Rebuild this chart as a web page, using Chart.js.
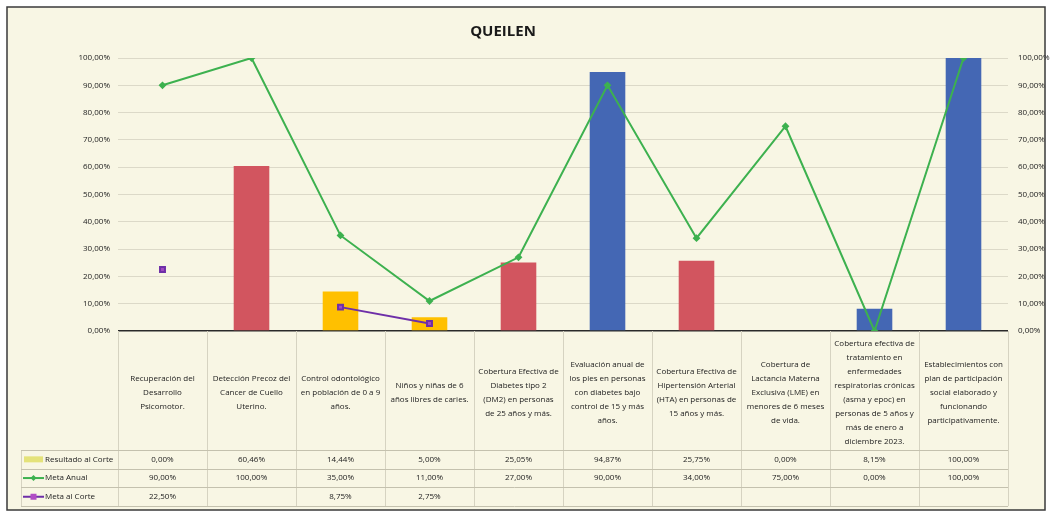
<!DOCTYPE html>
<html>
<head>
<meta charset="utf-8">
<script src="https://cdn.jsdelivr.net/npm/chart.js@4.4.1/dist/chart.umd.min.js"></script>
<style>
  html, body { margin: 0; padding: 0; background: #ffffff; }
  canvas { display: block; }
</style>
</head>
<body>
<canvas id="myChart" width="1050" height="513"></canvas>
<script>
// categorias (cada una partida en lineas como en la tabla)
const categorias = [
  ["Recuperación del", "Desarrollo", "Psicomotor."],
  ["Detección Precoz del", "Cancer de Cuello", "Uterino."],
  ["Control odontológico", "en población de 0 a 9", "años."],
  ["Niños y niñas de 6", "años libres de caries."],
  ["Cobertura Efectiva de", "Diabetes tipo 2", "(DM2) en personas", "de 25 años y más."],
  ["Evaluación anual de", "los pies en personas", "con diabetes bajo", "control de 15 y más", "años."],
  ["Cobertura Efectiva de", "Hipertensión Arterial", "(HTA) en personas de", "15 años y más."],
  ["Cobertura de", "Lactancia Materna", "Exclusiva (LME) en", "menores de 6 meses", "de vida."],
  ["Cobertura efectiva de", "tratamiento en", "enfermedades", "respiratorias crónicas", "(asma y epoc) en", "personas de 5 años y", "más de enero a", "diciembre 2023."],
  ["Establecimientos con", "plan de participación", "social elaborado y", "funcionando", "participativamente."]
];
const resultadoCorte = [0, 60.46, 14.44, 5.00, 25.05, 94.87, 25.75, 0, 8.15, 100];
const metaAnual = [90, 100, 35, 11, 27, 90, 34, 75, 0, 100];
const metaCorte = [22.5, null, 8.75, 2.75, null, null, null, null, null, null];
const yTicks = [0, 10, 20, 30, 40, 50, 60, 70, 80, 90, 100];
const titulo = "QUEILEN";

const fmt = v => v.toFixed(2).replace(".", ",") + "%";
const FONT = '"Open Sans", "Liberation Sans", sans-serif';
const TXT = "#222222";

const barColor = i => {
  if (resultadoCorte[i] >= metaAnual[i]) return "#4467B4";
  if (metaCorte[i] != null && resultadoCorte[i] >= metaCorte[i]) return "#FFC000";
  return "#D2555F";
};

const tablePlugin = {
  id: "tablePlugin",
  beforeDraw(chart) {
    const c = chart.ctx;
    c.save();
    c.fillStyle = "#ffffff";
    c.fillRect(0, 0, chart.width, chart.height);
    c.fillStyle = "#f8f6e4";
    c.fillRect(7, 7, 1038, 503);
    c.restore();
  },
  afterDraw(chart) {
    const c = chart.ctx;
    const xs = chart.scales.x;
    const area = chart.chartArea;
    const n = categorias.length;
    const w = (area.right - area.left) / n;
    const rowsTop = 450, rowH = 18.7;
    const rows = [
      { name: "Resultado al Corte", data: resultadoCorte },
      { name: "Meta Anual", data: metaAnual },
      { name: "Meta al Corte", data: metaCorte }
    ];
    c.save();
    // title
    c.fillStyle = "#1a1a1a";
    c.font = "bold 15px " + FONT;
    c.textAlign = "center";
    c.textBaseline = "middle";
    c.fillText(titulo, 503, 32);

    // grid of the table
    c.strokeStyle = "#d6d3c1";
    c.lineWidth = 1;
    for (let i = 0; i <= n; i++) {
      const x = Math.round(area.left + i * w) + 0.5;
      c.beginPath();
      c.moveTo(x, area.bottom);
      c.lineTo(x, rowsTop + rowH * 3);
      c.stroke();
    }
    c.beginPath();
    c.moveTo(21.5, rowsTop);
    c.lineTo(21.5, rowsTop + rowH * 3);
    c.stroke();
    c.strokeStyle = "#c4c1ae";
    for (let r = 0; r <= 3; r++) {
      const y = Math.round(rowsTop + r * rowH) + 0.5;
      c.beginPath();
      c.moveTo(21, y);
      c.lineTo(area.right, y);
      c.stroke();
    }

    // category labels
    c.fillStyle = TXT;
    c.font = "8px " + FONT;
    const lh = 14, cy = 393;
    categorias.forEach((lines, i) => {
      const x = xs.getPixelForValue(i);
      const y0 = cy - (lines.length - 1) * lh / 2;
      lines.forEach((t, k) => c.fillText(t, x, y0 + k * lh));
    });

    // rows
    rows.forEach((row, r) => {
      const y = rowsTop + r * rowH + rowH / 2;
      row.data.forEach((v, i) => {
        if (v == null) return;
        c.fillStyle = TXT;
        c.textAlign = "center";
        c.fillText(fmt(v), xs.getPixelForValue(i), y);
      });
      c.textAlign = "left";
      c.fillStyle = TXT;
      c.fillText(row.name, 45, y);
    });

    // legend keys
    let y = rowsTop + rowH / 2;
    c.fillStyle = "#E4E27A";
    c.fillRect(24, y - 3, 19, 6);
    y = rowsTop + rowH * 1.5;
    c.strokeStyle = "#3DB14F";
    c.lineWidth = 2;
    c.beginPath(); c.moveTo(23, y); c.lineTo(44, y); c.stroke();
    c.fillStyle = "#3DB14F";
    c.beginPath(); c.moveTo(33.5, y - 3); c.lineTo(36.5, y); c.lineTo(33.5, y + 3); c.lineTo(30.5, y); c.closePath(); c.fill();
    y = rowsTop + rowH * 2.5;
    c.strokeStyle = "#6E2FA8";
    c.beginPath(); c.moveTo(23, y); c.lineTo(44, y); c.stroke();
    c.fillStyle = "#B04CC4";
    c.fillRect(30.5, y - 3, 6, 6);

    // frame
    c.strokeStyle = "#3a3a3a";
    c.lineWidth = 1.5;
    c.strokeRect(7, 7, 1038, 503);
    c.restore();
  }
};

new Chart(document.getElementById("myChart").getContext("2d"), {
  type: "bar",
  data: {
    labels: categorias,
    datasets: [
      {
        type: "line",
        label: "Meta Anual",
        data: metaAnual,
        borderColor: "#3DB14F",
        backgroundColor: "#3DB14F",
        borderWidth: 2,
        pointStyle: "rectRot",
        pointRadius: 2.5,
        tension: 0,
        order: 0
      },
      {
        type: "line",
        label: "Meta al Corte",
        data: metaCorte,
        borderColor: "#6E2FA8",
        backgroundColor: "#A24BC0",
        borderWidth: 2,
        pointStyle: "rect",
        pointRadius: 3.5,
        spanGaps: false,
        tension: 0,
        order: 1
      },
      {
        type: "bar",
        label: "Resultado al Corte",
        data: resultadoCorte,
        backgroundColor: ctx => barColor(ctx.dataIndex),
        barPercentage: 0.4,
        categoryPercentage: 1,
        order: 2
      }
    ]
  },
  options: {
    responsive: false,
    animation: false,
    layout: { padding: { left: 58, right: 0, top: 58, bottom: 182 } },
    plugins: {
      legend: { display: false },
      tooltip: { enabled: false },
      title: { display: false }
    },
    scales: {
      x: { display: false, offset: true },
      y: {
        position: "left",
        min: 0,
        max: 100,
        afterFit: s => { s.width = 60; },
        afterBuildTicks: s => { s.ticks = yTicks.map(v => ({ value: v })); },
        ticks: { callback: v => fmt(v), color: TXT, font: { family: FONT, size: 8 }, padding: 8 },
        grid: { color: c => c.tick.value === 0 ? "#2a2a2a" : "#dcd9c8", lineWidth: c => c.tick.value === 0 ? 1.5 : 1, drawTicks: false },
        border: { display: false }
      },
      y2: {
        position: "right",
        min: 0,
        max: 100,
        afterFit: s => { s.width = 42; },
        afterBuildTicks: s => { s.ticks = yTicks.map(v => ({ value: v })); },
        ticks: { callback: v => fmt(v), color: TXT, font: { family: FONT, size: 8 }, padding: 10 },
        grid: { display: false, drawTicks: false },
        border: { display: false }
      }
    }
  },
  plugins: [tablePlugin]
});
</script>
</body>
</html>
